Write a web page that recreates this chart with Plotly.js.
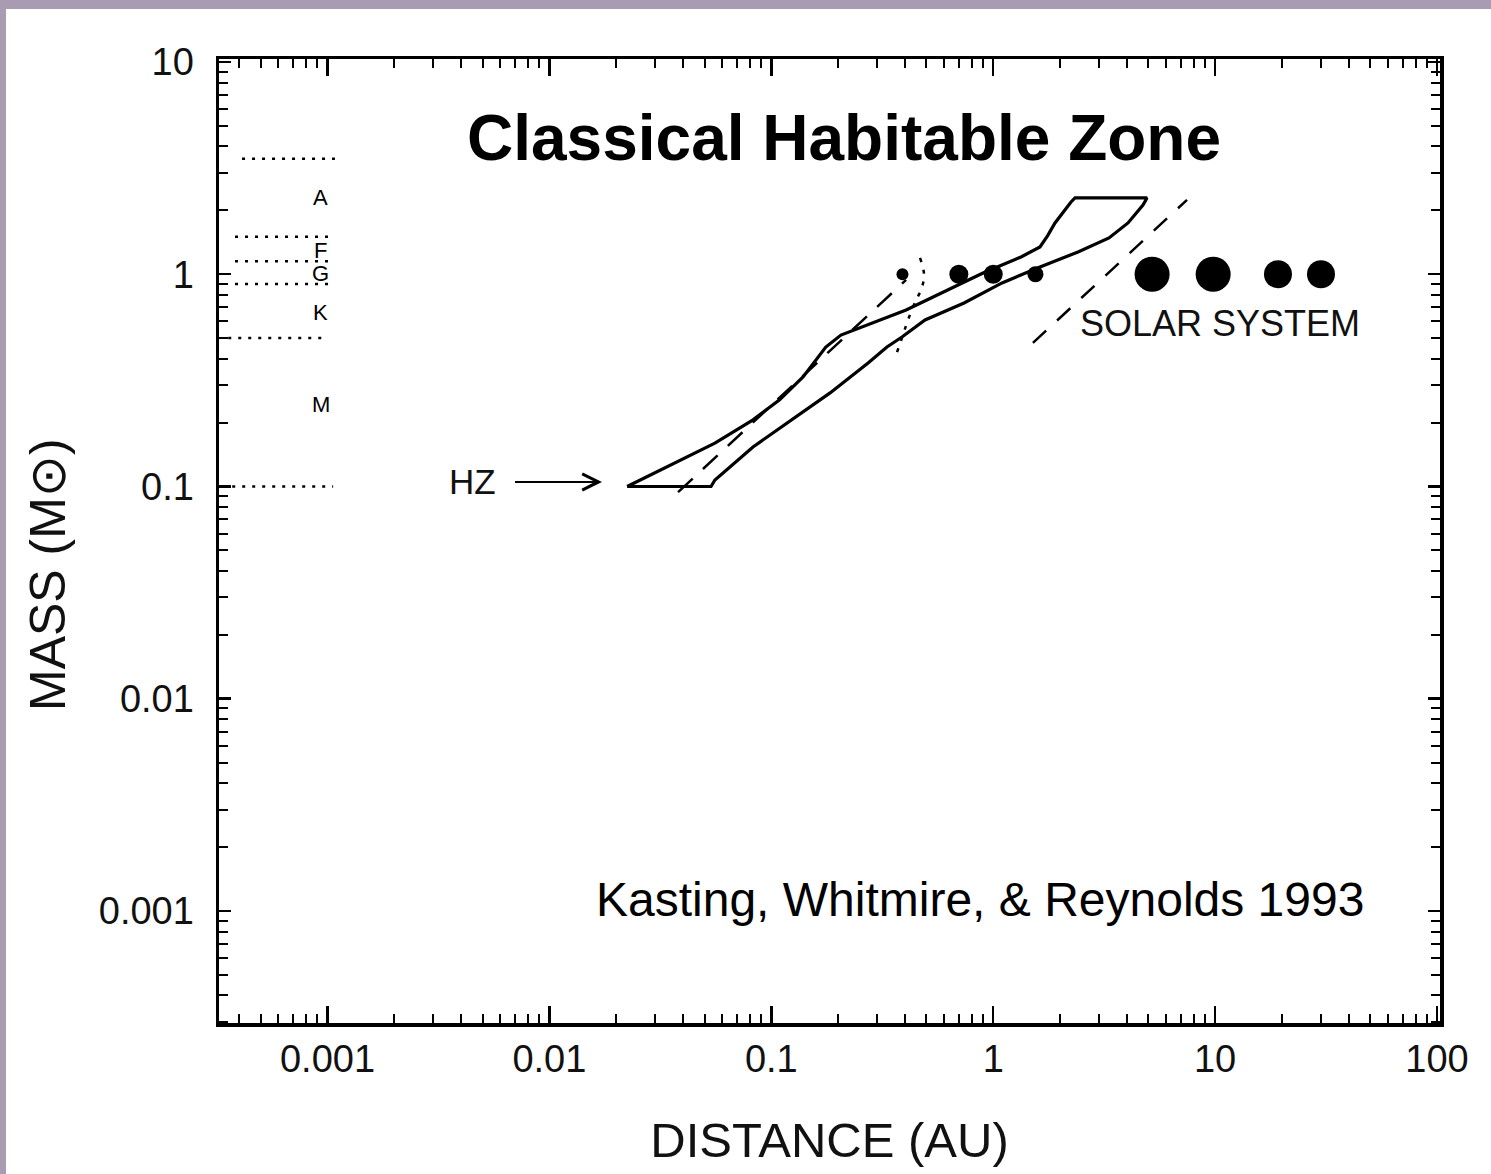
<!DOCTYPE html>
<html>
<head>
<meta charset="utf-8">
<script src="https://cdn.plot.ly/plotly-3.0.1.min.js"></script>
<style>
  html, body { margin:0; padding:0; width:1491px; height:1174px; background:#a99bb1; overflow:hidden; }
  #chart { position:absolute; left:6px; top:9px; width:1485px; height:1165px; background:#ffffff; }
</style>
</head>
<body>
<div id="chart"></div>
<script>
// ---- Data ----
// Habitable-zone outline (distance AU, stellar mass Msun), traced around the band
const hzDist = [0.0224, 0.0376, 0.0557, 0.0827, 0.109, 0.139, 0.160, 0.176, 0.206, 0.273, 0.405, 0.536, 0.739, 0.900, 1.335, 1.625, 1.76, 1.899, 2.242, 2.337,
                4.933, 4.73, 4.05, 3.325, 2.411, 1.625, 1.096, 0.739, 0.493, 0.388, 0.332, 0.273, 0.184, 0.123, 0.0827, 0.0557, 0.0535, 0.0224];
const hzMass = [0.100, 0.130, 0.160, 0.206, 0.256, 0.328, 0.395, 0.454, 0.517, 0.577, 0.679, 0.781, 0.919, 1.014, 1.206, 1.344, 1.52, 1.744, 2.190, 2.287,
                2.287, 2.12, 1.744, 1.482, 1.273, 1.082, 0.910, 0.732, 0.609, 0.506, 0.454, 0.382, 0.276, 0.206, 0.1535, 0.1073, 0.100, 0.100];

// Dashed line inside the zone
const innerDashDist = [0.038, 0.405];
const innerDashMass = [0.094, 0.94];
// Dashed line right of the zone
const outerDashDist = [1.51, 7.47];
const outerDashMass = [0.4745, 2.24];
// Dotted curve near Mercury
const dotCurveDist = [0.468, 0.488, 0.473, 0.449, 0.413, 0.392, 0.365];
const dotCurveMass = [1.193, 0.992, 0.843, 0.756, 0.609, 0.517, 0.4165];

// Solar-system planets
const planetNames = ["Mercury", "Venus", "Earth", "Mars", "Jupiter", "Saturn", "Uranus", "Neptune"];
const planetDist = [0.39, 0.70, 1.0, 1.55, 5.2, 9.8, 19.2, 30.0];
const planetMass = [1, 1, 1, 1, 1, 1, 1, 1];
const planetSize = [12, 19, 19, 16, 35, 35, 28, 28];

// Spectral-type boundaries (dotted) and labels
const specBoundMass = [3.5, 1.5, 1.15, 0.9, 0.5, 0.1];
const specBoundStart = [0.000412, 0.000383, 0.000383, 0.000383, 0.000357, 0.000372];
const specBoundEnd = [0.00108, 0.00108, 0.00106, 0.00106, 0.001005, 0.00106];
const specLetters = ["A", "F", "G", "K", "M"];
const specLetterMass = [2.30, 1.30, 1.01, 0.66, 0.243];
const specLetterDist = 0.00093;

// Axis tick labels
const xTickVals = [0.001, 0.01, 0.1, 1, 10, 100];
const xTickText = ["0.001", "0.01", "0.1", "1", "10", "100"];
const yTickVals = [0.001, 0.01, 0.1, 1, 10];
const yTickText = ["0.001", "0.01", "0.1", "1", "10"];

// ---- Build traces ----
const specX = [], specY = [];
for (let i = 0; i < specBoundMass.length; i++) {
  specX.push(specBoundStart[i], specBoundEnd[i], null);
  specY.push(specBoundMass[i], specBoundMass[i], null);
}

const traces = [
  { x: specX, y: specY, mode: 'lines', line: {color: '#000', width: 2.5, dash: '3px,7px'}, hoverinfo: 'skip', showlegend: false },
  { x: hzDist, y: hzMass, mode: 'lines', line: {color: '#000', width: 3.2}, showlegend: false, name: 'HZ' },
  { x: innerDashDist, y: innerDashMass, mode: 'lines', line: {color: '#000', width: 2.5, dash: '20px,14px'}, showlegend: false },
  { x: outerDashDist, y: outerDashMass, mode: 'lines', line: {color: '#000', width: 2.5, dash: '18px,15px'}, showlegend: false },
  { x: dotCurveDist, y: dotCurveMass, mode: 'lines', line: {color: '#000', width: 2.5, dash: '4px,8px', shape: 'spline'}, showlegend: false },
  { x: planetDist, y: planetMass, text: planetNames, mode: 'markers', opacity: 1,
    marker: {color: 'rgb(0,0,0)', opacity: 1, size: planetSize, line: {width: 0, color: 'rgb(0,0,0)'}}, showlegend: false }
];

const baseFont = 'Liberation Sans, Arial, sans-serif';
const tickFont = {family: baseFont, size: 38, color: '#111'};

const annotations = [
  { x: Math.log10(0.01726), y: Math.log10(0.105), xref: 'x', yref: 'y', text: 'HZ', showarrow: true,
    ax: -130, ay: 0, arrowhead: 5, arrowsize: 1.6, arrowwidth: 2, arrowcolor: '#000', startstandoff: 18,
    font: {family: baseFont, size: 35, color: '#111'} },
  { x: Math.log10(10.52), y: Math.log10(0.589), xref: 'x', yref: 'y', text: 'SOLAR SYSTEM', showarrow: false,
    font: {family: baseFont, size: 36, color: '#111'} },
  { x: Math.log10(0.872), y: Math.log10(0.00113), xref: 'x', yref: 'y', text: 'Kasting, Whitmire, &amp; Reynolds 1993', showarrow: false,
    font: {family: baseFont, size: 48, color: '#000'} },
  // y-axis title (placed as annotation to match the reference offset)
  { x: 42 / 1485, y: 1 - (575 - 9) / 1165, xref: 'paper', yref: 'paper', text: 'MASS (M⊙)', textangle: -90, showarrow: false,
    xanchor: 'center', yanchor: 'middle', font: {family: baseFont, size: 50, color: '#111'} }
];
for (let i = 0; i < specLetters.length; i++) {
  annotations.push({ x: Math.log10(specLetterDist), y: Math.log10(specLetterMass[i]), xref: 'x', yref: 'y',
    text: specLetters[i], showarrow: false,
    font: {family: baseFont, size: 22, color: '#000'} });
}
// convert paper-x/y of y-title annotation: paper coords are relative to plot area
(function () {
  const l = 213, r = 51, t = 50, b = 151, W = 1485, H = 1165;
  const a = annotations[3];
  a.x = (42 - l) / (W - l - r);
  a.y = (H - b - (575 - 9)) / (H - t - b);
})();

const layout = {
  width: 1485, height: 1165,
  margin: {l: 213, r: 51, t: 50, b: 151, pad: 0},
  paper_bgcolor: '#ffffff', plot_bgcolor: '#ffffff',
  showlegend: false,
  title: { text: '<b>Classical Habitable Zone</b>', xref: 'container', yref: 'container',
           x: 0.5643, y: 0.890, xanchor: 'center', yanchor: 'middle',
           font: {family: baseFont, size: 64, color: '#000'} },
  xaxis: {
    type: 'log', range: [-3.489, 2.0135], autorange: false,
    tickmode: 'array', tickvals: xTickVals, ticktext: xTickText,
    ticks: 'inside', ticklen: 17, tickwidth: 2.5, tickcolor: '#000',
    minor: {ticks: 'inside', ticklen: 9, tickwidth: 2, tickcolor: '#000', dtick: 'D1', showgrid: false},
    showline: true, linecolor: '#000', linewidth: 3.5, mirror: 'ticks',
    showgrid: false, zeroline: false,
    tickfont: tickFont, ticklabelstandoff: 0,
    title: {text: 'DISTANCE (AU)', standoff: 44, font: {family: baseFont, size: 49, color: '#111'}},
    automargin: false
  },
  yaxis: {
    type: 'log', range: [-3.5277, 1.014], autorange: false,
    tickmode: 'array', tickvals: yTickVals, ticktext: yTickText,
    ticks: 'inside', ticklen: 12, tickwidth: 2.5, tickcolor: '#000',
    minor: {ticks: 'inside', ticklen: 9, tickwidth: 2, tickcolor: '#000', dtick: 'D1', showgrid: false},
    showline: true, linecolor: '#000', linewidth: 3.5, mirror: 'ticks',
    showgrid: false, zeroline: false,
    tickfont: tickFont, ticklabelstandoff: 14,
    automargin: false
  },
  annotations: annotations
};

Plotly.newPlot('chart', traces, layout, {displayModeBar: false, staticPlot: true});
</script>
</body>
</html>
